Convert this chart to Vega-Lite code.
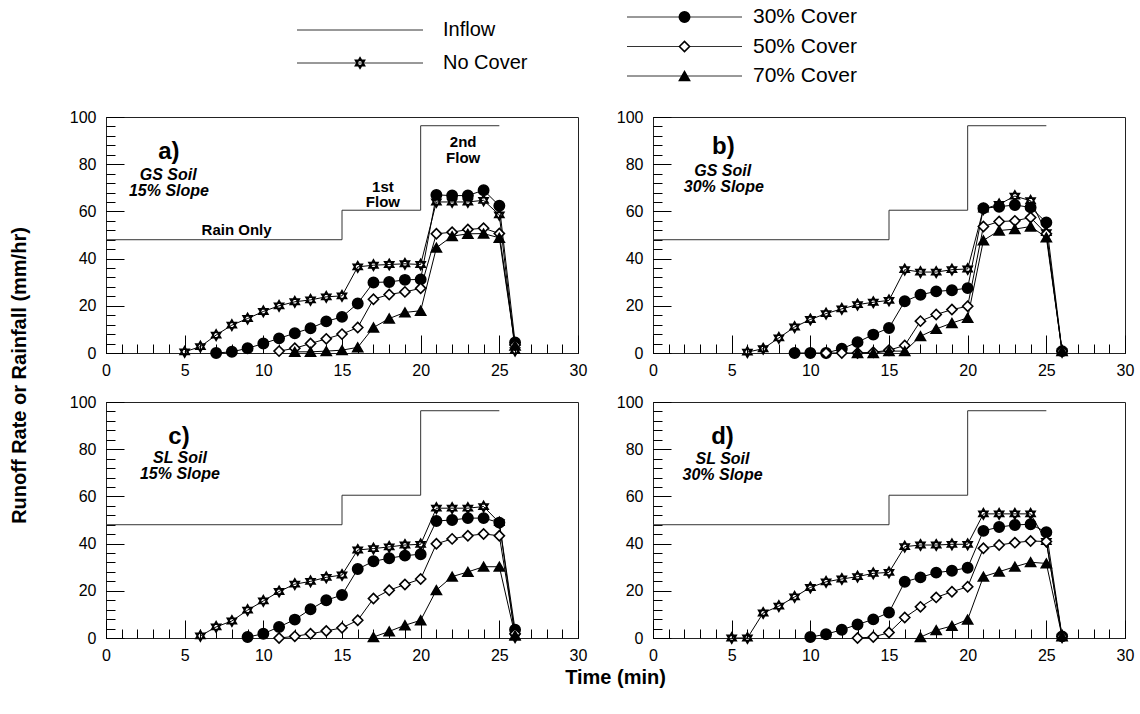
{
  "$schema": "https://vega.github.io/schema/vega-lite/v6.json",
  "padding": {"left": 8, "top": 0, "right": 5, "bottom": 5},
  "config": {
    "font": "Liberation Sans",
    "view": {"stroke": "#222", "strokeWidth": 1},
    "axis": {"labelFont": "Liberation Sans", "labelFontSize": 16, "labelColor": "black", "tickColor": "black", "tickWidth": 1, "domain": false, "grid": false, "labelFlush": false, "labelOverlap": false, "titleFont": "Liberation Sans", "titleFontSize": 20, "titleFontWeight": "bold", "titleColor": "black"}
  },
  "datasets": {
    "inflow": [
      {"t": 0, "v": 48}, {"t": 15, "v": 60.5}, {"t": 20, "v": 96.3}, {"t": 25, "v": 96.3}
    ],
    "legend": [
      {"s": "Inflow", "col": "L"}, {"s": "No Cover", "col": "L"},
      {"s": "30% Cover", "col": "R"}, {"s": "50% Cover", "col": "R"}, {"s": "70% Cover", "col": "R"}
    ],
    "runoff": [
      {"p":"a","s":"No Cover","t":5,"v":0.5},{"p":"a","s":"No Cover","t":6,"v":2.7},{"p":"a","s":"No Cover","t":7,"v":7.6},{"p":"a","s":"No Cover","t":8,"v":11.8},{"p":"a","s":"No Cover","t":9,"v":14.6},{"p":"a","s":"No Cover","t":10,"v":17.6},{"p":"a","s":"No Cover","t":11,"v":20},{"p":"a","s":"No Cover","t":12,"v":21.7},{"p":"a","s":"No Cover","t":13,"v":22.5},{"p":"a","s":"No Cover","t":14,"v":23.8},{"p":"a","s":"No Cover","t":15,"v":24.2},{"p":"a","s":"No Cover","t":16,"v":36.5},{"p":"a","s":"No Cover","t":17,"v":37.2},{"p":"a","s":"No Cover","t":18,"v":37.5},{"p":"a","s":"No Cover","t":19,"v":37.8},{"p":"a","s":"No Cover","t":20,"v":37.5},{"p":"a","s":"No Cover","t":21,"v":64},{"p":"a","s":"No Cover","t":22,"v":64},{"p":"a","s":"No Cover","t":23,"v":64},{"p":"a","s":"No Cover","t":24,"v":64.7},{"p":"a","s":"No Cover","t":25,"v":58.5},{"p":"a","s":"No Cover","t":26,"v":1},
      {"p":"a","s":"30% Cover","t":7,"v":0},{"p":"a","s":"30% Cover","t":8,"v":0.5},{"p":"a","s":"30% Cover","t":9,"v":2},{"p":"a","s":"30% Cover","t":10,"v":4},{"p":"a","s":"30% Cover","t":11,"v":6.2},{"p":"a","s":"30% Cover","t":12,"v":8.4},{"p":"a","s":"30% Cover","t":13,"v":10.5},{"p":"a","s":"30% Cover","t":14,"v":13.4},{"p":"a","s":"30% Cover","t":15,"v":15.3},{"p":"a","s":"30% Cover","t":16,"v":21},{"p":"a","s":"30% Cover","t":17,"v":29.9},{"p":"a","s":"30% Cover","t":18,"v":30.1},{"p":"a","s":"30% Cover","t":19,"v":31},{"p":"a","s":"30% Cover","t":20,"v":31.2},{"p":"a","s":"30% Cover","t":21,"v":67},{"p":"a","s":"30% Cover","t":22,"v":66.7},{"p":"a","s":"30% Cover","t":23,"v":66.7},{"p":"a","s":"30% Cover","t":24,"v":69},{"p":"a","s":"30% Cover","t":25,"v":62.4},{"p":"a","s":"30% Cover","t":26,"v":4.5},
      {"p":"a","s":"50% Cover","t":11,"v":0.8},{"p":"a","s":"50% Cover","t":12,"v":2},{"p":"a","s":"50% Cover","t":13,"v":4},{"p":"a","s":"50% Cover","t":14,"v":6},{"p":"a","s":"50% Cover","t":15,"v":8},{"p":"a","s":"50% Cover","t":16,"v":10.8},{"p":"a","s":"50% Cover","t":17,"v":22.8},{"p":"a","s":"50% Cover","t":18,"v":24.8},{"p":"a","s":"50% Cover","t":19,"v":25.9},{"p":"a","s":"50% Cover","t":20,"v":27.4},{"p":"a","s":"50% Cover","t":21,"v":50.5},{"p":"a","s":"50% Cover","t":22,"v":51.2},{"p":"a","s":"50% Cover","t":23,"v":52.3},{"p":"a","s":"50% Cover","t":24,"v":52.9},{"p":"a","s":"50% Cover","t":25,"v":50.6},{"p":"a","s":"50% Cover","t":26,"v":3.4},
      {"p":"a","s":"70% Cover","t":12,"v":0.5},{"p":"a","s":"70% Cover","t":13,"v":0.5},{"p":"a","s":"70% Cover","t":14,"v":0.8},{"p":"a","s":"70% Cover","t":15,"v":1.2},{"p":"a","s":"70% Cover","t":16,"v":2.4},{"p":"a","s":"70% Cover","t":17,"v":10.8},{"p":"a","s":"70% Cover","t":18,"v":14.6},{"p":"a","s":"70% Cover","t":19,"v":17.2},{"p":"a","s":"70% Cover","t":20,"v":17.9},{"p":"a","s":"70% Cover","t":21,"v":44.6},{"p":"a","s":"70% Cover","t":22,"v":49.5},{"p":"a","s":"70% Cover","t":23,"v":50.5},{"p":"a","s":"70% Cover","t":24,"v":50.6},{"p":"a","s":"70% Cover","t":25,"v":48.8},{"p":"a","s":"70% Cover","t":26,"v":3.1},
      {"p":"b","s":"No Cover","t":6,"v":0.4},{"p":"b","s":"No Cover","t":7,"v":1.8},{"p":"b","s":"No Cover","t":8,"v":6.4},{"p":"b","s":"No Cover","t":9,"v":11},{"p":"b","s":"No Cover","t":10,"v":14.2},{"p":"b","s":"No Cover","t":11,"v":16.7},{"p":"b","s":"No Cover","t":12,"v":18.7},{"p":"b","s":"No Cover","t":13,"v":20.5},{"p":"b","s":"No Cover","t":14,"v":21.5},{"p":"b","s":"No Cover","t":15,"v":22.3},{"p":"b","s":"No Cover","t":16,"v":35.3},{"p":"b","s":"No Cover","t":17,"v":34.3},{"p":"b","s":"No Cover","t":18,"v":34.3},{"p":"b","s":"No Cover","t":19,"v":35.3},{"p":"b","s":"No Cover","t":20,"v":35.6},{"p":"b","s":"No Cover","t":21,"v":61},{"p":"b","s":"No Cover","t":22,"v":63},{"p":"b","s":"No Cover","t":23,"v":66.5},{"p":"b","s":"No Cover","t":24,"v":64.5},{"p":"b","s":"No Cover","t":25,"v":51},{"p":"b","s":"No Cover","t":26,"v":0.5},
      {"p":"b","s":"30% Cover","t":9,"v":0},{"p":"b","s":"30% Cover","t":10,"v":0},{"p":"b","s":"30% Cover","t":11,"v":0},{"p":"b","s":"30% Cover","t":12,"v":1.8},{"p":"b","s":"30% Cover","t":13,"v":4.6},{"p":"b","s":"30% Cover","t":14,"v":7.8},{"p":"b","s":"30% Cover","t":15,"v":10.6},{"p":"b","s":"30% Cover","t":16,"v":21.9},{"p":"b","s":"30% Cover","t":17,"v":24.7},{"p":"b","s":"30% Cover","t":18,"v":26.1},{"p":"b","s":"30% Cover","t":19,"v":26.6},{"p":"b","s":"30% Cover","t":20,"v":27.5},{"p":"b","s":"30% Cover","t":21,"v":61.3},{"p":"b","s":"30% Cover","t":22,"v":62},{"p":"b","s":"30% Cover","t":23,"v":62.7},{"p":"b","s":"30% Cover","t":24,"v":61.7},{"p":"b","s":"30% Cover","t":25,"v":55.3},{"p":"b","s":"30% Cover","t":26,"v":0.8},
      {"p":"b","s":"50% Cover","t":11,"v":0},{"p":"b","s":"50% Cover","t":12,"v":0},{"p":"b","s":"50% Cover","t":13,"v":0},{"p":"b","s":"50% Cover","t":14,"v":0.3},{"p":"b","s":"50% Cover","t":15,"v":1.2},{"p":"b","s":"50% Cover","t":16,"v":3.2},{"p":"b","s":"50% Cover","t":17,"v":13.5},{"p":"b","s":"50% Cover","t":18,"v":16.3},{"p":"b","s":"50% Cover","t":19,"v":18.4},{"p":"b","s":"50% Cover","t":20,"v":19.8},{"p":"b","s":"50% Cover","t":21,"v":53.6},{"p":"b","s":"50% Cover","t":22,"v":55.7},{"p":"b","s":"50% Cover","t":23,"v":56},{"p":"b","s":"50% Cover","t":24,"v":57.4},{"p":"b","s":"50% Cover","t":25,"v":50.5},{"p":"b","s":"50% Cover","t":26,"v":0.8},
      {"p":"b","s":"70% Cover","t":13,"v":0},{"p":"b","s":"70% Cover","t":14,"v":0},{"p":"b","s":"70% Cover","t":15,"v":0.8},{"p":"b","s":"70% Cover","t":16,"v":0.8},{"p":"b","s":"70% Cover","t":17,"v":7.1},{"p":"b","s":"70% Cover","t":18,"v":10.2},{"p":"b","s":"70% Cover","t":19,"v":12.7},{"p":"b","s":"70% Cover","t":20,"v":14.9},{"p":"b","s":"70% Cover","t":21,"v":47.7},{"p":"b","s":"70% Cover","t":22,"v":51.9},{"p":"b","s":"70% Cover","t":23,"v":52.5},{"p":"b","s":"70% Cover","t":24,"v":53.6},{"p":"b","s":"70% Cover","t":25,"v":49},{"p":"b","s":"70% Cover","t":26,"v":0.8},
      {"p":"c","s":"No Cover","t":6,"v":0.9},{"p":"c","s":"No Cover","t":7,"v":4.7},{"p":"c","s":"No Cover","t":8,"v":7.2},{"p":"c","s":"No Cover","t":9,"v":11.8},{"p":"c","s":"No Cover","t":10,"v":15.7},{"p":"c","s":"No Cover","t":11,"v":19.7},{"p":"c","s":"No Cover","t":12,"v":22.8},{"p":"c","s":"No Cover","t":13,"v":24},{"p":"c","s":"No Cover","t":14,"v":25.7},{"p":"c","s":"No Cover","t":15,"v":26.7},{"p":"c","s":"No Cover","t":16,"v":37.3},{"p":"c","s":"No Cover","t":17,"v":37.9},{"p":"c","s":"No Cover","t":18,"v":38.6},{"p":"c","s":"No Cover","t":19,"v":39.4},{"p":"c","s":"No Cover","t":20,"v":39.7},{"p":"c","s":"No Cover","t":21,"v":55},{"p":"c","s":"No Cover","t":22,"v":55},{"p":"c","s":"No Cover","t":23,"v":55},{"p":"c","s":"No Cover","t":24,"v":55.7},{"p":"c","s":"No Cover","t":25,"v":48.9},{"p":"c","s":"No Cover","t":26,"v":0.4},
      {"p":"c","s":"30% Cover","t":9,"v":0.4},{"p":"c","s":"30% Cover","t":10,"v":1.8},{"p":"c","s":"30% Cover","t":11,"v":4.7},{"p":"c","s":"30% Cover","t":12,"v":7.8},{"p":"c","s":"30% Cover","t":13,"v":12.2},{"p":"c","s":"30% Cover","t":14,"v":16},{"p":"c","s":"30% Cover","t":15,"v":18.2},{"p":"c","s":"30% Cover","t":16,"v":29.2},{"p":"c","s":"30% Cover","t":17,"v":32.5},{"p":"c","s":"30% Cover","t":18,"v":33.8},{"p":"c","s":"30% Cover","t":19,"v":34.9},{"p":"c","s":"30% Cover","t":20,"v":35.5},{"p":"c","s":"30% Cover","t":21,"v":49.6},{"p":"c","s":"30% Cover","t":22,"v":50},{"p":"c","s":"30% Cover","t":23,"v":50.8},{"p":"c","s":"30% Cover","t":24,"v":50.8},{"p":"c","s":"30% Cover","t":25,"v":48.9},{"p":"c","s":"30% Cover","t":26,"v":3.5},
      {"p":"c","s":"50% Cover","t":11,"v":0},{"p":"c","s":"50% Cover","t":12,"v":0.7},{"p":"c","s":"50% Cover","t":13,"v":1.8},{"p":"c","s":"50% Cover","t":14,"v":3},{"p":"c","s":"50% Cover","t":15,"v":4.3},{"p":"c","s":"50% Cover","t":16,"v":7.5},{"p":"c","s":"50% Cover","t":17,"v":16.7},{"p":"c","s":"50% Cover","t":18,"v":20.2},{"p":"c","s":"50% Cover","t":19,"v":22.7},{"p":"c","s":"50% Cover","t":20,"v":25},{"p":"c","s":"50% Cover","t":21,"v":39.9},{"p":"c","s":"50% Cover","t":22,"v":42},{"p":"c","s":"50% Cover","t":23,"v":43.3},{"p":"c","s":"50% Cover","t":24,"v":44.1},{"p":"c","s":"50% Cover","t":25,"v":43.3},{"p":"c","s":"50% Cover","t":26,"v":1.8},
      {"p":"c","s":"70% Cover","t":17,"v":0.4},{"p":"c","s":"70% Cover","t":18,"v":2.8},{"p":"c","s":"70% Cover","t":19,"v":5.4},{"p":"c","s":"70% Cover","t":20,"v":7.5},{"p":"c","s":"70% Cover","t":21,"v":20.3},{"p":"c","s":"70% Cover","t":22,"v":26},{"p":"c","s":"70% Cover","t":23,"v":28},{"p":"c","s":"70% Cover","t":24,"v":30.2},{"p":"c","s":"70% Cover","t":25,"v":30.2},{"p":"c","s":"70% Cover","t":26,"v":1.1},
      {"p":"d","s":"No Cover","t":5,"v":0},{"p":"d","s":"No Cover","t":6,"v":0},{"p":"d","s":"No Cover","t":7,"v":10.6},{"p":"d","s":"No Cover","t":8,"v":13.5},{"p":"d","s":"No Cover","t":9,"v":17.4},{"p":"d","s":"No Cover","t":10,"v":21.4},{"p":"d","s":"No Cover","t":11,"v":23.8},{"p":"d","s":"No Cover","t":12,"v":25},{"p":"d","s":"No Cover","t":13,"v":26},{"p":"d","s":"No Cover","t":14,"v":27.4},{"p":"d","s":"No Cover","t":15,"v":27.8},{"p":"d","s":"No Cover","t":16,"v":38.7},{"p":"d","s":"No Cover","t":17,"v":39.4},{"p":"d","s":"No Cover","t":18,"v":39.4},{"p":"d","s":"No Cover","t":19,"v":39.7},{"p":"d","s":"No Cover","t":20,"v":39.7},{"p":"d","s":"No Cover","t":21,"v":52.6},{"p":"d","s":"No Cover","t":22,"v":52.6},{"p":"d","s":"No Cover","t":23,"v":52.6},{"p":"d","s":"No Cover","t":24,"v":52.6},{"p":"d","s":"No Cover","t":25,"v":40.9},{"p":"d","s":"No Cover","t":26,"v":0.4},
      {"p":"d","s":"30% Cover","t":10,"v":0.4},{"p":"d","s":"30% Cover","t":11,"v":1.6},{"p":"d","s":"30% Cover","t":12,"v":3.5},{"p":"d","s":"30% Cover","t":13,"v":5.7},{"p":"d","s":"30% Cover","t":14,"v":7.9},{"p":"d","s":"30% Cover","t":15,"v":10.8},{"p":"d","s":"30% Cover","t":16,"v":23.8},{"p":"d","s":"30% Cover","t":17,"v":25.7},{"p":"d","s":"30% Cover","t":18,"v":27.7},{"p":"d","s":"30% Cover","t":19,"v":28.5},{"p":"d","s":"30% Cover","t":20,"v":29.8},{"p":"d","s":"30% Cover","t":21,"v":45.4},{"p":"d","s":"30% Cover","t":22,"v":47},{"p":"d","s":"30% Cover","t":23,"v":47.9},{"p":"d","s":"30% Cover","t":24,"v":48.2},{"p":"d","s":"30% Cover","t":25,"v":44.8},{"p":"d","s":"30% Cover","t":26,"v":0.7},
      {"p":"d","s":"50% Cover","t":13,"v":0},{"p":"d","s":"50% Cover","t":14,"v":0.4},{"p":"d","s":"50% Cover","t":15,"v":2.3},{"p":"d","s":"50% Cover","t":16,"v":8.7},{"p":"d","s":"50% Cover","t":17,"v":13.2},{"p":"d","s":"50% Cover","t":18,"v":17.2},{"p":"d","s":"50% Cover","t":19,"v":19.6},{"p":"d","s":"50% Cover","t":20,"v":21.7},{"p":"d","s":"50% Cover","t":21,"v":38},{"p":"d","s":"50% Cover","t":22,"v":39.4},{"p":"d","s":"50% Cover","t":23,"v":40.4},{"p":"d","s":"50% Cover","t":24,"v":41.1},{"p":"d","s":"50% Cover","t":25,"v":40.9},{"p":"d","s":"50% Cover","t":26,"v":0.7},
      {"p":"d","s":"70% Cover","t":17,"v":0.4},{"p":"d","s":"70% Cover","t":18,"v":3.3},{"p":"d","s":"70% Cover","t":19,"v":5.1},{"p":"d","s":"70% Cover","t":20,"v":7.8},{"p":"d","s":"70% Cover","t":21,"v":26},{"p":"d","s":"70% Cover","t":22,"v":28.1},{"p":"d","s":"70% Cover","t":23,"v":30.2},{"p":"d","s":"70% Cover","t":24,"v":32.1},{"p":"d","s":"70% Cover","t":25,"v":31.6},{"p":"d","s":"70% Cover","t":26,"v":0.7}
    ]
  },
  "columns": 2,
  "bounds": "flush",
  "spacing": {"row": 49, "column": 75},
  "resolve": {"scale": {"x": "independent", "y": "independent"}},
  "concat": [
    {
      "width": 317, "height": 68,
      "view": {"stroke": null, "fill": "white"},
      "data": {"name": "legend"},
      "transform": [{"filter": "datum.col == 'L'"}],
      "encoding": {"y": {"field": "s", "type": "nominal", "scale": {"type": "point", "padding": 0, "domain": ["Inflow", "No Cover"], "range": [30, 63]}, "axis": null}},
      "layer": [
        {"mark": {"type": "rule", "color": "#333", "strokeWidth": 1}, "encoding": {"x": {"datum": 0, "type": "quantitative", "scale": {"domain": [0, 1], "range": [191, 317]}, "axis": null}, "x2": {"datum": 1}}},
        {"transform": [{"filter": "datum.s != 'Inflow'"}], "mark": {"type": "point", "opacity": 1, "stroke": "black", "strokeWidth": 1.6}, "encoding": {"x": {"datum": 0.5, "type": "quantitative", "axis": null}, "shape": {"field": "s", "type": "nominal", "scale": {"domain": ["No Cover", "30% Cover", "50% Cover", "70% Cover"], "range": ["M0,-1L0.866,0.5L-0.866,0.5Z M0,1L0.866,-0.5L-0.866,-0.5Z", "circle", "diamond", "triangle-up"]}, "legend": null}, "fill": {"field": "s", "type": "nominal", "scale": {"domain": ["No Cover", "30% Cover", "50% Cover", "70% Cover"], "range": ["white", "black", "white", "black"]}, "legend": null}, "size": {"field": "s", "type": "nominal", "scale": {"domain": ["No Cover", "30% Cover", "50% Cover", "70% Cover"], "range": [110, 100, 70, 85]}, "legend": null}}},
        {"mark": {"type": "text", "align": "left", "baseline": "middle", "dx": 20, "fontSize": 20, "color": "black"}, "encoding": {"x": {"datum": 1, "type": "quantitative", "axis": null}, "text": {"field": "s"}}}
      ]
    },
    {
      "width": 115, "height": 68,
      "view": {"stroke": null, "fill": "white"},
      "data": {"name": "legend"},
      "transform": [{"filter": "datum.col == 'R'"}],
      "encoding": {"y": {"field": "s", "type": "nominal", "scale": {"type": "point", "padding": 0, "domain": ["30% Cover", "50% Cover", "70% Cover"], "range": [17, 76]}, "axis": null}},
      "layer": [
        {"mark": {"type": "rule", "color": "#333", "strokeWidth": 1}, "encoding": {"x": {"datum": 0, "type": "quantitative", "scale": {"domain": [0, 1], "range": [-26, 89]}, "axis": null}, "x2": {"datum": 1}}},
        {"mark": {"type": "point", "opacity": 1, "stroke": "black", "strokeWidth": 1.6}, "encoding": {"x": {"datum": 0.5, "type": "quantitative", "axis": null}, "shape": {"field": "s", "type": "nominal", "scale": {"domain": ["No Cover", "30% Cover", "50% Cover", "70% Cover"], "range": ["M0,-1L0.866,0.5L-0.866,0.5Z M0,1L0.866,-0.5L-0.866,-0.5Z", "circle", "diamond", "triangle-up"]}, "legend": null}, "fill": {"field": "s", "type": "nominal", "scale": {"domain": ["No Cover", "30% Cover", "50% Cover", "70% Cover"], "range": ["white", "black", "white", "black"]}, "legend": null}, "size": {"field": "s", "type": "nominal", "scale": {"domain": ["No Cover", "30% Cover", "50% Cover", "70% Cover"], "range": [110, 100, 70, 85]}, "legend": null}}},
        {"mark": {"type": "text", "align": "left", "baseline": "middle", "dx": 11, "fontSize": 21, "color": "black"}, "encoding": {"x": {"datum": 1, "type": "quantitative", "axis": null}, "text": {"field": "s"}}}
      ]
    },
    {
      "width": 472, "height": 236,
      "layer": [
        {"data": {"name": "inflow"}, "mark": {"type": "line", "interpolate": "step-after", "color": "#333", "strokeWidth": 1},
         "encoding": {
           "x": {"field": "t", "type": "quantitative", "scale": {"domain": [0, 30]}, "axis": {"orient": "bottom", "values": [0,1,2,3,4,5,6,7,8,9,10,11,12,13,14,15,16,17,18,19,20,21,22,23,24,25,26,27,28,29,30], "offset": -9, "tickSize": 9, "labels": false, "title": null}},
           "y": {"field": "v", "type": "quantitative", "scale": {"domain": [0, 100]}, "axis": {"orient": "left", "values": [0,4,8,12,16,20,24,28,32,36,40,44,48,52,56,60,64,68,72,76,80,84,88,92,96,100], "offset": -9, "tickSize": 9, "labels": false, "title": null}}
         }},
        {"data": {"name": "runoff"}, "transform": [{"filter": "datum.p == 'a'"}], "mark": {"type": "line", "color": "black", "strokeWidth": 1},
         "encoding": {
           "x": {"field": "t", "type": "quantitative", "axis": {"orient": "bottom", "values": [0,5,10,15,20,25,30], "offset": -18, "tickSize": 18, "labelPadding": 9, "title": null}},
           "y": {"field": "v", "type": "quantitative", "axis": {"orient": "left", "values": [0,20,40,60,80,100], "offset": -18, "tickSize": 18, "labelPadding": 10, "title": "Runoff Rate or Rainfall (mm/hr)", "titleY": 258, "titlePadding": 40}},
           "detail": {"field": "s"}
         }},
        {"data": {"name": "runoff"}, "transform": [{"filter": "datum.p == 'a'"}], "mark": {"type": "point", "opacity": 1, "stroke": "black", "strokeWidth": 1.6},
         "encoding": {
           "x": {"field": "t", "type": "quantitative", "axis": null},
           "y": {"field": "v", "type": "quantitative", "axis": null},
           "shape": {"field": "s", "type": "nominal", "scale": {"domain": ["No Cover", "30% Cover", "50% Cover", "70% Cover"], "range": ["M0,-1L0.866,0.5L-0.866,0.5Z M0,1L0.866,-0.5L-0.866,-0.5Z", "circle", "diamond", "triangle-up"]}, "legend": null},
           "fill": {"field": "s", "type": "nominal", "scale": {"domain": ["No Cover", "30% Cover", "50% Cover", "70% Cover"], "range": ["white", "black", "white", "black"]}, "legend": null},
           "size": {"field": "s", "type": "nominal", "scale": {"domain": ["No Cover", "30% Cover", "50% Cover", "70% Cover"], "range": [110, 100, 70, 85]}, "legend": null}
         }},
        {"data": {"values": [{}]}, "mark": {"type": "text", "fontSize": 24, "fontWeight": "bold", "align": "center", "baseline": "middle", "color": "black"}, "encoding": {"x": {"datum": 4, "type": "quantitative", "axis": null}, "y": {"datum": 85, "type": "quantitative", "axis": null}, "text": {"value": "a)"}}},
        {"data": {"values": [{}]}, "mark": {"type": "text", "fontSize": 16, "fontWeight": "bold", "fontStyle": "italic", "align": "center", "baseline": "middle", "color": "black"}, "encoding": {"x": {"datum": 3.95, "type": "quantitative", "axis": null}, "y": {"datum": 75.3, "type": "quantitative", "axis": null}, "text": {"value": "GS Soil"}}},
        {"data": {"values": [{}]}, "mark": {"type": "text", "fontSize": 16, "fontWeight": "bold", "fontStyle": "italic", "align": "center", "baseline": "middle", "color": "black"}, "encoding": {"x": {"datum": 4, "type": "quantitative", "axis": null}, "y": {"datum": 68.5, "type": "quantitative", "axis": null}, "text": {"value": "15% Slope"}}},
        {"data": {"values": [{}]}, "mark": {"type": "text", "fontSize": 15, "fontWeight": "bold", "align": "center", "baseline": "middle", "color": "black"}, "encoding": {"x": {"datum": 8.3, "type": "quantitative", "axis": null}, "y": {"datum": 52, "type": "quantitative", "axis": null}, "text": {"value": "Rain Only"}}},
        {"data": {"values": [{}]}, "mark": {"type": "text", "fontSize": 15, "fontWeight": "bold", "align": "center", "baseline": "middle", "color": "black"}, "encoding": {"x": {"datum": 17.6, "type": "quantitative", "axis": null}, "y": {"datum": 70.5, "type": "quantitative", "axis": null}, "text": {"value": "1st"}}},
        {"data": {"values": [{}]}, "mark": {"type": "text", "fontSize": 15, "fontWeight": "bold", "align": "center", "baseline": "middle", "color": "black"}, "encoding": {"x": {"datum": 17.6, "type": "quantitative", "axis": null}, "y": {"datum": 64, "type": "quantitative", "axis": null}, "text": {"value": "Flow"}}},
        {"data": {"values": [{}]}, "mark": {"type": "text", "fontSize": 15, "fontWeight": "bold", "align": "center", "baseline": "middle", "color": "black"}, "encoding": {"x": {"datum": 22.7, "type": "quantitative", "axis": null}, "y": {"datum": 89.5, "type": "quantitative", "axis": null}, "text": {"value": "2nd"}}},
        {"data": {"values": [{}]}, "mark": {"type": "text", "fontSize": 15, "fontWeight": "bold", "align": "center", "baseline": "middle", "color": "black"}, "encoding": {"x": {"datum": 22.7, "type": "quantitative", "axis": null}, "y": {"datum": 82.7, "type": "quantitative", "axis": null}, "text": {"value": "Flow"}}}
      ],
      "resolve": {"axis": {"x": "independent", "y": "independent"}}
    },
    {
      "width": 472, "height": 236,
      "layer": [
        {"data": {"name": "inflow"}, "mark": {"type": "line", "interpolate": "step-after", "color": "#333", "strokeWidth": 1},
         "encoding": {
           "x": {"field": "t", "type": "quantitative", "scale": {"domain": [0, 30]}, "axis": {"orient": "bottom", "values": [0,1,2,3,4,5,6,7,8,9,10,11,12,13,14,15,16,17,18,19,20,21,22,23,24,25,26,27,28,29,30], "offset": -9, "tickSize": 9, "labels": false, "title": null}},
           "y": {"field": "v", "type": "quantitative", "scale": {"domain": [0, 100]}, "axis": {"orient": "left", "values": [0,4,8,12,16,20,24,28,32,36,40,44,48,52,56,60,64,68,72,76,80,84,88,92,96,100], "offset": -9, "tickSize": 9, "labels": false, "title": null}}
         }},
        {"data": {"name": "runoff"}, "transform": [{"filter": "datum.p == 'b'"}], "mark": {"type": "line", "color": "black", "strokeWidth": 1},
         "encoding": {
           "x": {"field": "t", "type": "quantitative", "axis": {"orient": "bottom", "values": [0,5,10,15,20,25,30], "offset": -18, "tickSize": 18, "labelPadding": 9, "title": null}},
           "y": {"field": "v", "type": "quantitative", "axis": {"orient": "left", "values": [0,20,40,60,80,100], "offset": -18, "tickSize": 18, "labelPadding": 10, "title": null}},
           "detail": {"field": "s"}
         }},
        {"data": {"name": "runoff"}, "transform": [{"filter": "datum.p == 'b'"}], "mark": {"type": "point", "opacity": 1, "stroke": "black", "strokeWidth": 1.6},
         "encoding": {
           "x": {"field": "t", "type": "quantitative", "axis": null},
           "y": {"field": "v", "type": "quantitative", "axis": null},
           "shape": {"field": "s", "type": "nominal", "scale": {"domain": ["No Cover", "30% Cover", "50% Cover", "70% Cover"], "range": ["M0,-1L0.866,0.5L-0.866,0.5Z M0,1L0.866,-0.5L-0.866,-0.5Z", "circle", "diamond", "triangle-up"]}, "legend": null},
           "fill": {"field": "s", "type": "nominal", "scale": {"domain": ["No Cover", "30% Cover", "50% Cover", "70% Cover"], "range": ["white", "black", "white", "black"]}, "legend": null},
           "size": {"field": "s", "type": "nominal", "scale": {"domain": ["No Cover", "30% Cover", "50% Cover", "70% Cover"], "range": [110, 100, 70, 85]}, "legend": null}
         }},
        {"data": {"values": [{}]}, "mark": {"type": "text", "fontSize": 24, "fontWeight": "bold", "align": "center", "baseline": "middle", "color": "black"}, "encoding": {"x": {"datum": 4.47, "type": "quantitative", "axis": null}, "y": {"datum": 87.5, "type": "quantitative", "axis": null}, "text": {"value": "b)"}}},
        {"data": {"values": [{}]}, "mark": {"type": "text", "fontSize": 16, "fontWeight": "bold", "fontStyle": "italic", "align": "center", "baseline": "middle", "color": "black"}, "encoding": {"x": {"datum": 4.43, "type": "quantitative", "axis": null}, "y": {"datum": 77.3, "type": "quantitative", "axis": null}, "text": {"value": "GS Soil"}}},
        {"data": {"values": [{}]}, "mark": {"type": "text", "fontSize": 16, "fontWeight": "bold", "fontStyle": "italic", "align": "center", "baseline": "middle", "color": "black"}, "encoding": {"x": {"datum": 4.5, "type": "quantitative", "axis": null}, "y": {"datum": 70.3, "type": "quantitative", "axis": null}, "text": {"value": "30% Slope"}}}
      ],
      "resolve": {"axis": {"x": "independent", "y": "independent"}}
    },
    {
      "width": 472, "height": 236,
      "layer": [
        {"data": {"name": "inflow"}, "mark": {"type": "line", "interpolate": "step-after", "color": "#333", "strokeWidth": 1},
         "encoding": {
           "x": {"field": "t", "type": "quantitative", "scale": {"domain": [0, 30]}, "axis": {"orient": "bottom", "values": [0,1,2,3,4,5,6,7,8,9,10,11,12,13,14,15,16,17,18,19,20,21,22,23,24,25,26,27,28,29,30], "offset": -9, "tickSize": 9, "labels": false, "title": null}},
           "y": {"field": "v", "type": "quantitative", "scale": {"domain": [0, 100]}, "axis": {"orient": "left", "values": [0,4,8,12,16,20,24,28,32,36,40,44,48,52,56,60,64,68,72,76,80,84,88,92,96,100], "offset": -9, "tickSize": 9, "labels": false, "title": null}}
         }},
        {"data": {"name": "runoff"}, "transform": [{"filter": "datum.p == 'c'"}], "mark": {"type": "line", "color": "black", "strokeWidth": 1},
         "encoding": {
           "x": {"field": "t", "type": "quantitative", "axis": {"orient": "bottom", "values": [0,5,10,15,20,25,30], "offset": -18, "tickSize": 18, "labelPadding": 9, "title": "Time (min)", "titleX": 509, "titlePadding": 4}},
           "y": {"field": "v", "type": "quantitative", "axis": {"orient": "left", "values": [0,20,40,60,80,100], "offset": -18, "tickSize": 18, "labelPadding": 10, "title": null}},
           "detail": {"field": "s"}
         }},
        {"data": {"name": "runoff"}, "transform": [{"filter": "datum.p == 'c'"}], "mark": {"type": "point", "opacity": 1, "stroke": "black", "strokeWidth": 1.6},
         "encoding": {
           "x": {"field": "t", "type": "quantitative", "axis": null},
           "y": {"field": "v", "type": "quantitative", "axis": null},
           "shape": {"field": "s", "type": "nominal", "scale": {"domain": ["No Cover", "30% Cover", "50% Cover", "70% Cover"], "range": ["M0,-1L0.866,0.5L-0.866,0.5Z M0,1L0.866,-0.5L-0.866,-0.5Z", "circle", "diamond", "triangle-up"]}, "legend": null},
           "fill": {"field": "s", "type": "nominal", "scale": {"domain": ["No Cover", "30% Cover", "50% Cover", "70% Cover"], "range": ["white", "black", "white", "black"]}, "legend": null},
           "size": {"field": "s", "type": "nominal", "scale": {"domain": ["No Cover", "30% Cover", "50% Cover", "70% Cover"], "range": [110, 100, 70, 85]}, "legend": null}
         }},
        {"data": {"values": [{}]}, "mark": {"type": "text", "fontSize": 24, "fontWeight": "bold", "align": "center", "baseline": "middle", "color": "black"}, "encoding": {"x": {"datum": 4.64, "type": "quantitative", "axis": null}, "y": {"datum": 85, "type": "quantitative", "axis": null}, "text": {"value": "c)"}}},
        {"data": {"values": [{}]}, "mark": {"type": "text", "fontSize": 16, "fontWeight": "bold", "fontStyle": "italic", "align": "center", "baseline": "middle", "color": "black"}, "encoding": {"x": {"datum": 4.7, "type": "quantitative", "axis": null}, "y": {"datum": 76.2, "type": "quantitative", "axis": null}, "text": {"value": "SL Soil"}}},
        {"data": {"values": [{}]}, "mark": {"type": "text", "fontSize": 16, "fontWeight": "bold", "fontStyle": "italic", "align": "center", "baseline": "middle", "color": "black"}, "encoding": {"x": {"datum": 4.7, "type": "quantitative", "axis": null}, "y": {"datum": 69.4, "type": "quantitative", "axis": null}, "text": {"value": "15% Slope"}}}
      ],
      "resolve": {"axis": {"x": "independent", "y": "independent"}}
    },
    {
      "width": 472, "height": 236,
      "layer": [
        {"data": {"name": "inflow"}, "mark": {"type": "line", "interpolate": "step-after", "color": "#333", "strokeWidth": 1},
         "encoding": {
           "x": {"field": "t", "type": "quantitative", "scale": {"domain": [0, 30]}, "axis": {"orient": "bottom", "values": [0,1,2,3,4,5,6,7,8,9,10,11,12,13,14,15,16,17,18,19,20,21,22,23,24,25,26,27,28,29,30], "offset": -9, "tickSize": 9, "labels": false, "title": null}},
           "y": {"field": "v", "type": "quantitative", "scale": {"domain": [0, 100]}, "axis": {"orient": "left", "values": [0,4,8,12,16,20,24,28,32,36,40,44,48,52,56,60,64,68,72,76,80,84,88,92,96,100], "offset": -9, "tickSize": 9, "labels": false, "title": null}}
         }},
        {"data": {"name": "runoff"}, "transform": [{"filter": "datum.p == 'd'"}], "mark": {"type": "line", "color": "black", "strokeWidth": 1},
         "encoding": {
           "x": {"field": "t", "type": "quantitative", "axis": {"orient": "bottom", "values": [0,5,10,15,20,25,30], "offset": -18, "tickSize": 18, "labelPadding": 9, "title": null}},
           "y": {"field": "v", "type": "quantitative", "axis": {"orient": "left", "values": [0,20,40,60,80,100], "offset": -18, "tickSize": 18, "labelPadding": 10, "title": null}},
           "detail": {"field": "s"}
         }},
        {"data": {"name": "runoff"}, "transform": [{"filter": "datum.p == 'd'"}], "mark": {"type": "point", "opacity": 1, "stroke": "black", "strokeWidth": 1.6},
         "encoding": {
           "x": {"field": "t", "type": "quantitative", "axis": null},
           "y": {"field": "v", "type": "quantitative", "axis": null},
           "shape": {"field": "s", "type": "nominal", "scale": {"domain": ["No Cover", "30% Cover", "50% Cover", "70% Cover"], "range": ["M0,-1L0.866,0.5L-0.866,0.5Z M0,1L0.866,-0.5L-0.866,-0.5Z", "circle", "diamond", "triangle-up"]}, "legend": null},
           "fill": {"field": "s", "type": "nominal", "scale": {"domain": ["No Cover", "30% Cover", "50% Cover", "70% Cover"], "range": ["white", "black", "white", "black"]}, "legend": null},
           "size": {"field": "s", "type": "nominal", "scale": {"domain": ["No Cover", "30% Cover", "50% Cover", "70% Cover"], "range": [110, 100, 70, 85]}, "legend": null}
         }},
        {"data": {"values": [{}]}, "mark": {"type": "text", "fontSize": 24, "fontWeight": "bold", "align": "center", "baseline": "middle", "color": "black"}, "encoding": {"x": {"datum": 4.42, "type": "quantitative", "axis": null}, "y": {"datum": 85, "type": "quantitative", "axis": null}, "text": {"value": "d)"}}},
        {"data": {"values": [{}]}, "mark": {"type": "text", "fontSize": 16, "fontWeight": "bold", "fontStyle": "italic", "align": "center", "baseline": "middle", "color": "black"}, "encoding": {"x": {"datum": 4.42, "type": "quantitative", "axis": null}, "y": {"datum": 76, "type": "quantitative", "axis": null}, "text": {"value": "SL Soil"}}},
        {"data": {"values": [{}]}, "mark": {"type": "text", "fontSize": 16, "fontWeight": "bold", "fontStyle": "italic", "align": "center", "baseline": "middle", "color": "black"}, "encoding": {"x": {"datum": 4.42, "type": "quantitative", "axis": null}, "y": {"datum": 69, "type": "quantitative", "axis": null}, "text": {"value": "30% Slope"}}}
      ],
      "resolve": {"axis": {"x": "independent", "y": "independent"}}
    }
  ]
}
